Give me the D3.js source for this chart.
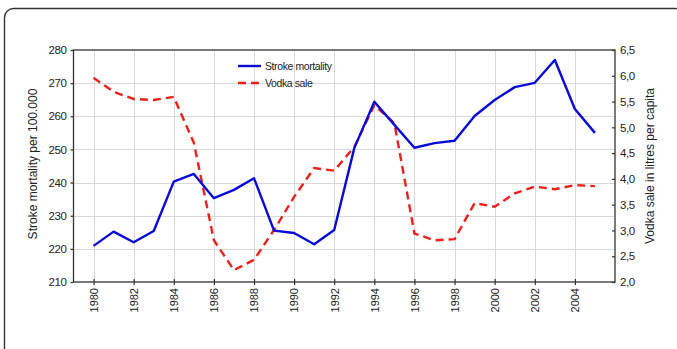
<!DOCTYPE html>
<html>
<head>
<meta charset="utf-8">
<script src="https://cdn.jsdelivr.net/npm/d3@7"></script>
<style>
  html, body { margin: 0; padding: 0; background: #fff; }
  svg { display: block; }
  text { font-family: "Liberation Sans", Arial, sans-serif; fill: #222; }
  .narrow { font-family: "Liberation Sans Narrow", "Arial Narrow", "Liberation Sans", sans-serif; letter-spacing: -0.4px; }
</style>
</head>
<body>
<svg id="chart" width="677" height="349"></svg>
<script>
// Years of observation
const years = [1980, 1981, 1982, 1983, 1984, 1985, 1986, 1987, 1988, 1989, 1990, 1991, 1992,
               1993, 1994, 1995, 1996, 1997, 1998, 1999, 2000, 2001, 2002, 2003, 2004, 2005];

// Stroke mortality per 100 000 (left axis)
const strokeMortality = [220.9, 225.2, 222.0, 225.4, 240.3, 242.6, 235.3, 237.8, 241.3, 225.5, 224.8, 221.4, 225.7,
                         250.4, 264.4, 257.4, 250.5, 251.9, 252.6, 260.1, 264.9, 268.8, 270.1, 277.0, 262.2, 255.0];

// Vodka sale in litres per capita (right axis)
const vodkaSale = [5.96, 5.69, 5.55, 5.53, 5.59, 4.70, 2.81, 2.23, 2.43, 3.01, 3.65, 4.21, 4.16,
                   4.62, 5.43, 5.08, 2.94, 2.81, 2.83, 3.53, 3.46, 3.72, 3.85, 3.80, 3.88, 3.86];

// Tick values
const xTicks = [1980, 1982, 1984, 1986, 1988, 1990, 1992, 1994, 1996, 1998, 2000, 2002, 2004];
const leftTicks = [210, 220, 230, 240, 250, 260, 270, 280];
const rightTicks = [2.0, 2.5, 3.0, 3.5, 4.0, 4.5, 5.0, 5.5, 6.0, 6.5];

const seriesNames = ["Stroke mortality", "Vodka sale"];

const svg = d3.select("#chart");
const mLeft = 73.5, mRight = 615, mTop = 50, mBottom = 282;

const x = d3.scaleLinear().domain([1979, 2006]).range([mLeft, mRight]);
const yL = d3.scaleLinear().domain([210, 280]).range([mBottom, mTop]);
const yR = d3.scaleLinear().domain([2.0, 6.5]).range([mBottom, mTop]);

const fmtComma = v => d3.format(".1f")(v).replace(".", ",");

// outer rounded frame
svg.append("rect")
  .attr("x", 4.5).attr("y", 8.5).attr("width", 680).attr("height", 400)
  .attr("rx", 9).attr("fill", "none").attr("stroke", "#333").attr("stroke-width", 1.4);

// grid
const grid = svg.append("g").attr("stroke", "#d9d9d9").attr("stroke-width", 1);
grid.selectAll("line.v").data(xTicks).join("line")
  .attr("x1", d => Math.round(x(d)) + 0.5).attr("x2", d => Math.round(x(d)) + 0.5)
  .attr("y1", mTop).attr("y2", mBottom);
grid.selectAll("line.h").data(leftTicks.filter(d => d > 210 && d < 280)).join("line")
  .attr("y1", d => Math.round(yL(d)) + 0.5).attr("y2", d => Math.round(yL(d)) + 0.5)
  .attr("x1", mLeft).attr("x2", mRight);

// lines
const lineStroke = d3.line().x((d, i) => x(years[i])).y(d => yL(d));
const lineVodka = d3.line().x((d, i) => x(years[i])).y(d => yR(d));

svg.append("path").datum(vodkaSale)
  .attr("d", lineVodka).attr("fill", "none")
  .attr("stroke", "#e8211c").attr("stroke-width", 2.4)
  .attr("stroke-dasharray", "8,5");

svg.append("path").datum(strokeMortality)
  .attr("d", lineStroke).attr("fill", "none")
  .attr("stroke", "#0a0ad4").attr("stroke-width", 2.4)
  .attr("stroke-linejoin", "round");

// plot frame
svg.append("rect")
  .attr("x", mLeft).attr("y", mTop).attr("width", mRight - mLeft).attr("height", mBottom - mTop)
  .attr("fill", "none").attr("stroke", "#333").attr("stroke-width", 1.3);

// axes
const axL = svg.append("g").attr("transform", `translate(${mLeft},0)`)
  .call(d3.axisLeft(yL).tickValues(leftTicks).tickSize(3).tickPadding(4).tickFormat(d3.format("d")));
const axR = svg.append("g").attr("transform", `translate(${mRight},0)`)
  .call(d3.axisRight(yR).tickValues(rightTicks).tickSizeInner(-3).tickSizeOuter(0).tickPadding(5).tickFormat(fmtComma));
const axB = svg.append("g").attr("transform", `translate(0,${mBottom})`)
  .call(d3.axisBottom(x).tickValues(xTicks).tickSize(3).tickFormat(d3.format("d")));

[axL, axR, axB].forEach(a => {
  a.select(".domain").remove();
  a.selectAll(".tick line").attr("stroke", "#333").attr("stroke-width", 1.2);
  a.selectAll("text").attr("class", "narrow").attr("font-size", 11.5).attr("fill", "#222");
});
axB.selectAll(".tick line").attr("y1", -3).attr("y2", 3);
axB.selectAll("text")
  .attr("class", null)
  .attr("font-size", 11)
  .attr("transform", "rotate(-90)")
  .attr("x", -6).attr("y", 0).attr("dy", "0.35em")
  .attr("text-anchor", "end");

// axis titles
svg.append("text")
  .attr("transform", `translate(37,${(mTop + mBottom) / 2 - 2}) rotate(-90)`)
  .attr("text-anchor", "middle").attr("font-size", 12)
  .text("Stroke mortality per 100.000");
svg.append("text")
  .attr("transform", `translate(654,${(mTop + mBottom) / 2}) rotate(-90)`)
  .attr("text-anchor", "middle").attr("font-size", 12)
  .text("Vodka sale in litres per capita");

// legend
const legend = svg.append("g");
const legItems = [
  { name: seriesNames[0], color: "#0a0ad4", dash: null, y: 66 },
  { name: seriesNames[1], color: "#e8211c", dash: "8,5", y: 83 }
];
legItems.forEach(it => {
  legend.append("line").attr("x1", 238).attr("x2", 261).attr("y1", it.y).attr("y2", it.y)
    .attr("stroke", it.color).attr("stroke-width", 2.4).attr("stroke-dasharray", it.dash);
  legend.append("text").attr("class", "narrow").attr("x", 265).attr("y", it.y).attr("dy", "0.35em")
    .attr("font-size", 10.5).text(it.name);
});
</script>
</body>
</html>
